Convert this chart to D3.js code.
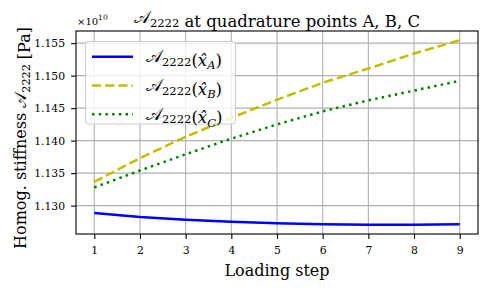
<!DOCTYPE html>
<html>
<head>
<meta charset="utf-8">
<script src="https://cdn.jsdelivr.net/npm/d3@7"></script>
<style>
  body { margin: 0; background: #fff; }
  text { font-family: "DejaVu Serif", serif; fill: #000; }
</style>
</head>
<body>
<div id="chart"></div>
<script>
// loading steps
var steps = [1, 2, 3, 4, 5, 6, 7, 8, 9];
// stiffness values, in units of 1e10 Pa
var seriesA = [1.12887, 1.12826, 1.12784, 1.12752, 1.12730, 1.12713, 1.12705, 1.12705, 1.12712];
var seriesB = [1.13366, 1.13730, 1.14060, 1.14350, 1.14630, 1.14890, 1.15110, 1.15340, 1.15545];
var seriesC = [1.13279, 1.13540, 1.13790, 1.14030, 1.14250, 1.14450, 1.14620, 1.14770, 1.14920];
var yTicks = [1.130, 1.135, 1.140, 1.145, 1.150, 1.155];
var seriesNames = ["A", "B", "C"];

var w = 488;
var h = 289;
var margin = {top: 31, right: 10, bottom: 55, left: 76};

var svg = d3.select("#chart")
  .append("svg")
  .attr("width", w)
  .attr("height", h);

var x = d3.scaleLinear()
  .domain([0.6, 9.4])
  .range([margin.left, w - margin.right]);

// 5% padding like matplotlib
var all = seriesA.concat(seriesB, seriesC);
var ext = d3.extent(all);
var pad = (ext[1] - ext[0]) * 0.05;
var y = d3.scaleLinear()
  .domain([ext[0] - pad, ext[1] + pad])
  .range([h - margin.bottom, margin.top]);

// grid
var grid = svg.append("g");
grid.selectAll("line.vx")
  .data(steps)
  .enter()
  .append("line")
  .attr("x1", d => x(d)).attr("x2", d => x(d))
  .attr("y1", margin.top).attr("y2", h - margin.bottom)
  .attr("stroke", "#b0b0b0").attr("stroke-width", 1.1);
grid.selectAll("line.hy")
  .data(yTicks)
  .enter()
  .append("line")
  .attr("y1", d => y(d)).attr("y2", d => y(d))
  .attr("x1", margin.left).attr("x2", w - margin.right)
  .attr("stroke", "#b0b0b0").attr("stroke-width", 1.1);

// axes
var xAxis = svg.append("g")
  .attr("transform", "translate(0," + (h - margin.bottom) + ")")
  .call(d3.axisBottom(x).tickValues(steps).tickSize(4.9).tickPadding(7).tickFormat(d3.format("d")));
var yAxis = svg.append("g")
  .attr("transform", "translate(" + margin.left + ",0)")
  .call(d3.axisLeft(y).tickValues(yTicks).tickSize(4.9).tickPadding(6).tickFormat(d3.format(".3f")));
[xAxis, yAxis].forEach(function(a) {
  a.select(".domain").remove();
  a.selectAll("text").attr("font-size", 10.8).attr("font-family", "DejaVu Serif");
  a.selectAll("line").attr("stroke", "#000").attr("stroke-width", 1.1);
});

// frame
svg.append("rect")
  .attr("x", margin.left).attr("y", margin.top)
  .attr("width", w - margin.left - margin.right)
  .attr("height", h - margin.top - margin.bottom)
  .attr("fill", "none").attr("stroke", "#000").attr("stroke-width", 1.1);

// series
var line = d3.line()
  .x((d, i) => x(steps[i]))
  .y(d => y(d));

var styles = [
  {data: seriesA, color: "#0000ff", dash: null},
  {data: seriesB, color: "#bfbf00", dash: "9.2,4"},
  {data: seriesC, color: "#008000", dash: "2.5,4.2"}
];

var plot = svg.append("g");
styles.forEach(function(s) {
  plot.append("path")
    .datum(s.data)
    .attr("d", line)
    .attr("fill", "none")
    .attr("stroke", s.color)
    .attr("stroke-width", 2.5)
    .attr("stroke-dasharray", s.dash);
});

// helper for A_2222 style labels
function mathA(sel, size) {
  sel.append("tspan").text("\u{1D49C}");
  sel.append("tspan").attr("font-size", size * 0.7).attr("dy", size * 0.22).text("2222");
  sel.append("tspan").attr("dy", -size * 0.22).text("");
}

// legend
var leg = svg.append("g");
leg.append("rect")
  .attr("x", 85.5).attr("y", 41.5)
  .attr("width", 150).attr("height", 82.5)
  .attr("rx", 3)
  .attr("fill", "rgba(255,255,255,0.8)")
  .attr("stroke", "#cccccc").attr("stroke-width", 1);

styles.forEach(function(s, i) {
  var ly = 56.7 + i * 28.8;
  leg.append("line")
    .attr("x1", 92).attr("x2", 133)
    .attr("y1", ly).attr("y2", ly)
    .attr("stroke", s.color).attr("stroke-width", 2.5)
    .attr("stroke-dasharray", s.dash);
  var t = leg.append("text")
    .attr("x", 146).attr("y", ly + 5.5)
    .attr("font-size", 16.5);
  mathA(t, 16.5);
  t.append("tspan").text("(");
  t.append("tspan").attr("font-style", "italic").text("x\u0302");
  t.append("tspan").attr("font-size", 11.5).attr("font-style", "italic").attr("dy", 3.5).text(seriesNames[i]);
  t.append("tspan").attr("dy", -3.5).text(")");
});

// title
var title = svg.append("text")
  .attr("x", 277).attr("y", 23)
  .attr("text-anchor", "middle")
  .attr("font-size", 16.5);
mathA(title, 16.5);
title.append("tspan").text(" at quadrature points A, B, C");

// offset text
var off = svg.append("text")
  .attr("x", 77).attr("y", 25)
  .attr("font-size", 10);
off.append("tspan").text("\u00d710");
off.append("tspan").attr("font-size", 7.5).attr("dy", -5).text("10");

// axis labels
svg.append("text")
  .attr("x", 277).attr("y", 276)
  .attr("text-anchor", "middle")
  .attr("font-size", 16)
  .text("Loading step");

var yl = svg.append("text")
  .attr("transform", "translate(26," + 138 + ") rotate(-90)")
  .attr("text-anchor", "middle")
  .attr("font-size", 16);
yl.append("tspan").text("Homog. stiffness ");
mathA(yl, 16);
yl.append("tspan").text(" [Pa]");
</script>
</body>
</html>
